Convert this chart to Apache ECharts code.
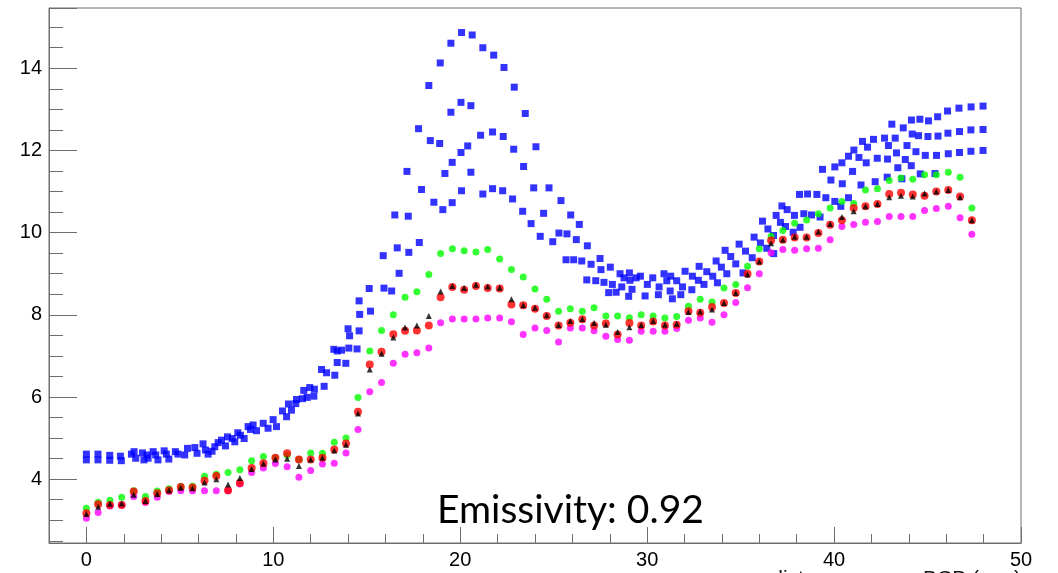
<!DOCTYPE html>
<html><head><meta charset="utf-8">
<script src="https://cdn.jsdelivr.net/npm/echarts@6/dist/echarts.min.js"></script>
<style>html,body{margin:0;padding:0;background:#fff}#c{width:1058px;height:573px}</style>
</head><body><div id="c"></div>
<script>
// x positions shared by the green / red / black / magenta series
const xPos = [0,0.63,1.26,1.89,2.53,3.16,3.79,4.42,5.05,5.68,6.32,6.95,7.58,8.21,8.84,9.47,10.11,10.74,11.37,12.00,
  12.63,13.26,13.89,14.53,15.16,15.79,16.42,17.05,17.68,18.32,18.95,19.58,20.21,20.84,21.47,22.11,22.74,23.37,24.00,24.63,
  25.26,25.89,26.53,27.16,27.79,28.42,29.05,29.68,30.32,30.95,31.58,32.21,32.84,33.47,34.11,34.74,35.37,36.00,36.63,37.26,
  37.89,38.53,39.16,39.79,40.42,41.05,41.68,42.32,42.95,43.58,44.21,44.84,45.47,46.11,46.74,47.37];
const greenY = [3.29,3.44,3.49,3.56,3.72,3.58,3.71,3.77,3.82,3.83,4.07,4.12,4.16,4.23,4.45,4.55,4.52,4.58,4.48,4.64,
  4.63,4.90,5.00,5.99,7.12,7.62,8.00,8.43,8.56,8.98,9.49,9.61,9.56,9.53,9.59,9.36,9.10,8.92,8.63,8.38,
  8.09,8.15,8.09,8.17,7.97,7.97,7.93,8.00,7.97,7.92,7.96,8.21,8.38,8.31,8.65,8.74,9.18,9.61,9.91,10.05,
  10.23,10.31,10.46,10.60,10.76,10.71,11.04,11.07,11.27,11.33,11.30,11.41,11.41,11.47,11.35,10.60];
const redY = [3.17,3.39,3.37,3.37,3.70,3.47,3.66,3.73,3.81,3.80,3.96,4.08,3.73,3.91,4.27,4.39,4.52,4.63,4.48,4.48,
  4.52,4.72,4.87,5.64,6.79,7.10,7.53,7.61,7.62,7.74,8.43,8.68,8.61,8.70,8.65,8.64,8.25,8.23,8.15,7.97,
  7.74,7.81,7.89,7.74,7.79,7.52,7.80,7.74,7.84,7.74,7.76,8.09,8.05,8.19,8.29,8.53,9.00,9.30,9.81,9.83,
  9.88,9.88,9.99,10.19,10.30,10.60,10.64,10.70,10.94,10.97,10.93,10.90,11.00,11.04,10.88,10.30];
const blackY = [3.15,3.33,3.40,3.41,3.62,3.47,3.64,3.73,3.79,3.78,3.92,4.00,3.87,4.03,4.25,4.38,4.48,4.50,4.32,4.48,
  4.52,4.70,4.84,5.60,6.67,7.05,7.45,7.69,7.74,7.97,8.57,8.70,8.65,8.73,8.69,8.66,8.38,8.23,8.17,7.99,
  7.75,7.85,7.90,7.80,7.76,7.58,7.70,7.75,7.85,7.76,7.78,8.07,8.08,8.13,8.29,8.53,8.98,9.30,9.74,9.83,
  9.90,9.90,10.02,10.21,10.38,10.52,10.64,10.70,10.86,10.90,10.88,10.95,11.00,11.04,10.86,10.30];
const magentaY = [3.05,3.19,3.35,3.37,3.58,3.43,3.56,3.70,3.72,3.72,3.72,3.72,3.72,3.88,4.16,4.27,4.38,4.30,4.05,4.21,
  4.37,4.39,4.64,5.21,6.13,6.35,6.82,7.04,7.08,7.19,7.81,7.90,7.90,7.90,7.92,7.92,7.83,7.52,7.68,7.62,
  7.34,7.68,7.68,7.61,7.48,7.40,7.38,7.60,7.60,7.60,7.67,7.87,7.92,7.82,8.00,8.30,8.66,9.00,9.51,9.59,
  9.57,9.61,9.62,9.83,10.15,10.20,10.25,10.27,10.39,10.39,10.39,10.54,10.59,10.64,10.36,9.96];
// blue squares (several overlapping curves), x and y read point by point
const blueX = [0.00,0.00,0.62,0.62,1.25,1.25,1.82,1.87,2.41,2.55,2.64,3.00,3.08,3.24,3.30,3.57,3.71,3.83,4.16,4.28,
  4.41,4.76,4.90,5.26,5.41,5.80,5.92,6.24,6.37,6.51,6.72,6.87,7.05,7.23,7.44,7.55,7.80,7.94,8.10,8.24,
  8.44,8.65,8.78,8.92,9.10,9.46,9.72,9.99,10.17,10.49,10.71,10.81,10.97,11.20,
  11.24,11.56,11.63,11.81,11.95,12.17,12.20,12.58,12.72,12.85,13.24,13.29,13.42,13.42,13.65,13.88,14.00,14.04,14.08,14.48,
  14.59,14.59,14.62,15.13,15.20,
  15.88,15.92,16.33,16.50,16.63,16.73,17.22,17.25,17.81,18.59,19.07,19.57,22.80,23.34,23.79,24.28,24.46,24.95,25.28,25.39,
  25.66,25.71,25.91,26.07,26.21,26.37,26.50,26.77,26.80,27.00,27.25,27.48,27.53,27.69,27.94,28.03,28.14,28.34,28.55,28.64,
  28.76,29.01,29.05,29.08,29.19,29.41,29.64,29.89,30.01,30.30,30.60,30.64,30.90,31.05,31.23,31.26,31.35,31.58,31.80,31.89,
  32.03,32.39,32.42,32.74,32.78,
  17.15,17.77,17.93,18.32,18.40,18.90,18.93,19.18,19.50,19.50,19.57,20.04,20.04,20.07,20.07,20.40,20.57,20.57,20.64,21.09,
  21.21,21.21,21.73,21.73,21.79,22.27,22.30,22.34,22.86,22.89,23.39,23.48,23.93,24.05,24.75,
  33.04,33.19,33.51,33.69,33.76,33.97,34.17,34.26,34.47,34.74,34.92,35.13,35.26,35.62,35.72,36.06,36.17,36.40,36.46,36.76,
  36.77,36.90,37.13,37.21,37.40,37.49,37.81,37.88,38.15,38.18,38.38,38.58,38.79,39.08,39.25,39.38,39.56,39.83,40.04,40.04,
  40.36,40.42,40.44,40.77,40.77,40.99,41.06,41.33,41.44,41.52,41.72,41.79,42.11,42.20,42.31,42.70,42.84,42.86,42.91,43.09,
  43.27,43.34,43.41,43.63,43.70,43.81,43.90,44.13,44.14,44.18,44.38,44.52,44.59,44.61,44.88,45.02,45.05,45.40,45.48,45.54,
  45.56,46.07,46.09,46.11,46.68,46.71,46.71,47.32,47.32,47.33,47.97,47.97,47.97];
const blueY = [4.61,4.47,4.61,4.47,4.58,4.46,4.56,4.45,4.61,4.67,4.51,4.64,4.47,4.59,4.51,4.67,4.59,4.47,4.69,4.61,
  4.49,4.67,4.61,4.59,4.75,4.77,4.63,4.86,4.71,4.61,4.68,4.79,4.89,4.95,4.81,5.03,4.99,4.91,5.13,5.07,
  4.99,5.28,5.21,5.32,5.18,5.36,5.24,5.45,5.28,5.66,5.52,5.83,5.68,5.84,
  5.94,5.96,6.16,5.99,6.23,6.02,6.19,6.67,6.26,6.59,7.16,6.53,7.12,6.84,7.14,6.82,7.66,7.19,7.49,7.17,
  8.34,7.61,8.01,8.64,8.09,
  9.44,8.65,8.58,10.43,9.63,9.01,10.40,9.52,9.76,10.74,10.56,10.73,10.82,10.52,10.22,9.91,10.47,9.78,9.99,10.78,
  9.34,9.97,10.43,9.34,9.83,10.20,9.31,8.85,9.68,9.23,8.83,9.37,9.10,8.79,8.54,9.16,8.74,8.55,9.00,8.68,
  8.90,8.45,9.02,8.84,8.62,8.90,8.94,8.46,8.74,8.90,8.49,8.68,9.00,8.83,8.58,8.94,8.39,8.83,8.49,8.68,
  9.06,8.61,8.94,8.84,9.18,
  11.49,12.53,11.05,13.58,12.24,12.17,14.13,11.44,14.61,12.93,11.71,13.17,11.95,14.87,11.02,12.11,13.09,11.47,14.81,12.37,
  14.50,10.94,12.45,11.07,14.32,11.02,12.34,14.02,12.03,13.54,11.61,12.90,11.09,12.09,11.09,
  8.74,9.05,8.94,9.31,8.78,9.16,9.57,9.00,9.42,9.24,9.72,9.02,9.55,9.39,9.89,9.75,10.28,9.62,10.09,9.93,
  9.49,10.42,10.25,10.65,10.15,10.56,10.01,10.42,10.93,10.13,10.46,10.94,10.43,10.93,10.38,11.54,10.85,11.28,11.60,10.76,
  10.64,11.70,11.19,11.86,10.85,11.49,12.01,11.83,11.16,12.22,11.70,12.08,12.27,11.24,11.81,12.30,11.35,11.79,12.12,12.64,
  12.30,11.94,11.58,11.31,12.55,11.78,12.12,11.63,12.74,12.40,11.97,12.36,12.76,11.43,11.88,12.34,12.72,11.44,11.88,12.82,
  12.35,12.96,12.42,11.92,13.03,12.46,11.95,12.50,11.98,13.06,13.08,12.51,12.00];
const xMajorLabels = [0,10,20,30,40,50];
const yMajorLabels = [4,6,8,10,12,14];
const annotationText = 'Emissivity: 0.92';
const xTitleText = 'distance across BCB (mm)';

const pairs = (xs, ys) => ys.map((y, i) => [xs[i], y]);
const X_MIN = -2, X_MAX = 50, Y_MIN = 2.447, Y_MAX = 15.467;
const axisCol = '#6e6e6e';
const labelStyle = {color:'#000', fontSize:20, fontFamily:'"Liberation Sans", Arial, sans-serif'};

const chart = echarts.init(document.getElementById('c'), null, {renderer:'canvas'});
chart.setOption({
  animation:false,
  backgroundColor:'#fff',
  grid:{left:49, right:37, top:8, bottom:30, show:true, borderColor:axisCol, borderWidth:1, backgroundColor:'transparent'},
  xAxis:[
    {type:'value', position:'bottom', min:X_MIN, max:X_MAX, splitNumber:5,
     axisLine:{show:true, onZero:false, lineStyle:{color:axisCol, width:1}},
     axisTick:{show:true, inside:true, length:16, lineStyle:{color:axisCol}},
     axisLabel:Object.assign({margin:7, showMinLabel:true, showMaxLabel:true,
       formatter:v => xMajorLabels.some(t => Math.abs(t - v) < 1e-6) ? String(Math.round(v)) : ''}, labelStyle),
     splitLine:{show:false}},
    {type:'value', position:'bottom', min:X_MIN, max:X_MAX, interval:2,
     axisLine:{show:false, onZero:false}, axisTick:{show:true, inside:true, length:9, lineStyle:{color:axisCol}},
     axisLabel:{show:false}, splitLine:{show:false}}
  ],
  yAxis:[
    {type:'value', position:'left', min:Y_MIN, max:Y_MAX, splitNumber:6,
     axisLine:{show:true, onZero:false, lineStyle:{color:axisCol, width:1}},
     axisTick:{show:true, inside:true, length:28, lineStyle:{color:axisCol}},
     axisLabel:Object.assign({margin:7,
       formatter:v => yMajorLabels.some(t => Math.abs(t - v) < 1e-6) ? String(Math.round(v)) : ''}, labelStyle),
     splitLine:{show:false}},
    {type:'value', position:'left', min:Y_MIN, max:Y_MAX, splitNumber:26,
     axisLine:{show:false, onZero:false}, axisTick:{show:true, inside:true, length:14, lineStyle:{color:axisCol}},
     axisLabel:{show:false}, splitLine:{show:false}}
  ],
  series:[
    {type:'scatter', name:'blue', symbol:'rect', symbolSize:7, itemStyle:{color:'#0000ff'}, data:pairs(blueX, blueY), z:2},
    {type:'scatter', name:'magenta', symbol:'circle', symbolSize:7, itemStyle:{color:'#ff00ff'}, data:pairs(xPos, magentaY), z:3},
    {type:'scatter', name:'green', symbol:'circle', symbolSize:7, itemStyle:{color:'#00ff00'}, data:pairs(xPos, greenY), z:4},
    {type:'scatter', name:'red', symbol:'circle', symbolSize:8, itemStyle:{color:'#ff0000'}, data:pairs(xPos, redY), z:5},
    {type:'scatter', name:'black', symbol:'triangle', symbolSize:6, itemStyle:{color:'#000000'}, data:pairs(xPos, blackY), z:6}
  ],
  graphic:[
    {type:'text', left:437, top:491, z:100, style:{text:annotationText, fill:'#000', font:'39px Lato, "Open Sans", sans-serif'}},
    {type:'text', right:37, top:569, z:100, style:{text:xTitleText, fill:'#111', font:'21px "Liberation Sans", Arial, sans-serif'}}
  ]
});
</script></body></html>
